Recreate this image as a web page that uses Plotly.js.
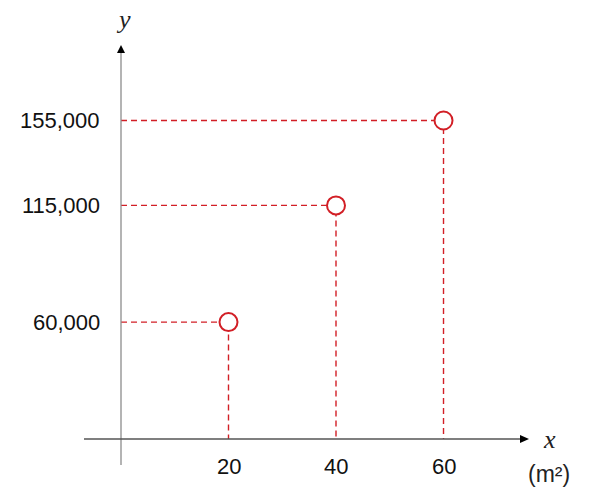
<!DOCTYPE html>
<html>
<head>
<meta charset="utf-8">
<script src="https://cdn.plot.ly/plotly-3.0.1.min.js"></script>
<style>html,body{margin:0;padding:0;background:#fff;}#chart{width:601px;height:504px;}</style>
</head>
<body>
<div id="chart"></div>
<script>
// Data
var areas = [20, 40, 60];                 // x (m²)
var prices = [60000, 115000, 155000];     // y
var xTickLabels = ['20', '40', '60'];
var yTickLabels = ['60,000', '115,000', '155,000'];

var W = 601, H = 504;
var red = '#d21f26';
var axisGray = '#8c8c8c';

// axis ranges (layout, chosen so the schematic fits the frame)
var xRange = [-22.51, 89.3];
var yRange = [-25721, 211791];
var xAxisYValue = 4910; // where the horizontal axis sits

function px(p) { return p / W; }
function py(p) { return 1 - p / H; }

var traces = [];
for (var i = 0; i < areas.length; i++) {
  traces.push({
    x: [0, areas[i], areas[i]],
    y: [prices[i], prices[i], xAxisYValue],
    mode: 'lines',
    line: {color: red, width: 1.4, dash: '6px,4px'},
    hoverinfo: 'skip',
    showlegend: false
  });
}
traces.push({
  x: areas,
  y: prices,
  mode: 'markers',
  marker: {symbol: 'circle', size: 18, color: '#ffffff', line: {color: red, width: 2}},
  showlegend: false
});

var tickFont = {family: 'Liberation Sans, Arial, sans-serif', size: 22, color: '#111'};
var annotations = [];
for (var j = 0; j < areas.length; j++) {
  annotations.push({
    x: areas[j], xref: 'x', y: py(466), yref: 'paper',
    text: xTickLabels[j], showarrow: false,
    xanchor: 'center', yanchor: 'middle', font: tickFont
  });
  annotations.push({
    x: px(102), xref: 'paper', y: prices[j], yref: 'y',
    text: yTickLabels[j], showarrow: false,
    xanchor: 'right', yanchor: 'middle', font: tickFont
  });
}
// axis titles
annotations.push({
  x: px(123), xref: 'paper', y: py(20), yref: 'paper',
  text: '<i>y</i>', showarrow: false, xanchor: 'center', yanchor: 'middle',
  font: {family: 'Liberation Serif, serif', size: 26, color: '#222'}
});
annotations.push({
  x: px(549), xref: 'paper', y: py(439), yref: 'paper',
  text: '<i>x</i>', showarrow: false, xanchor: 'center', yanchor: 'middle',
  font: {family: 'Liberation Serif, serif', size: 26, color: '#222'}
});
annotations.push({
  x: px(549), xref: 'paper', y: py(474), yref: 'paper',
  text: '(m²)', showarrow: false, xanchor: 'center', yanchor: 'middle',
  font: {family: 'Liberation Sans, Arial, sans-serif', size: 23, color: '#222'}
});

function tri(pts) {
  var s = 'M ' + px(pts[0][0]) + ',' + py(pts[0][1]);
  for (var k = 1; k < pts.length; k++) s += ' L ' + px(pts[k][0]) + ',' + py(pts[k][1]);
  return s + ' Z';
}

var shapes = [
  {type: 'line', xref: 'paper', yref: 'paper', x0: px(121), x1: px(121), y0: py(465), y1: py(52),
   line: {color: axisGray, width: 1.3}},
  {type: 'line', xref: 'paper', yref: 'paper', x0: px(84), x1: px(521), y0: py(439), y1: py(439),
   line: {color: '#555', width: 1.3}},
  {type: 'path', xref: 'paper', yref: 'paper', path: tri([[117, 53], [125, 53], [121, 45]]),
   fillcolor: '#000', line: {width: 0}},
  {type: 'path', xref: 'paper', yref: 'paper', path: tri([[520, 435], [520, 443], [529, 439]]),
   fillcolor: '#000', line: {width: 0}}
];

var layout = {
  width: W, height: H,
  margin: {l: 0, r: 0, t: 0, b: 0},
  paper_bgcolor: '#fff', plot_bgcolor: '#fff',
  xaxis: {range: xRange, visible: false, fixedrange: true},
  yaxis: {range: yRange, visible: false, fixedrange: true},
  shapes: shapes,
  annotations: annotations,
  showlegend: false
};

Plotly.newPlot('chart', traces, layout, {displayModeBar: false, staticPlot: true});
</script>
</body>
</html>
